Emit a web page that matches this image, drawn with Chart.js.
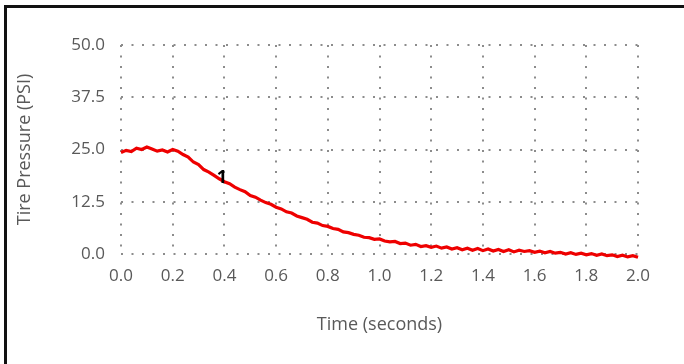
<!DOCTYPE html>
<html>
<head>
<meta charset="utf-8">
<script src="https://cdn.jsdelivr.net/npm/chart.js@4/dist/chart.umd.min.js"></script>
<style>
    html, body { margin: 0; padding: 0; background: #fff; overflow: hidden; }
    #wrap { position: relative; width: 684px; height: 364px; }
    #frame { position: absolute; left: 4px; top: 5px; width: 700px; height: 400px; border: 3px solid #111; box-sizing: border-box; }
    canvas { position: absolute; left: 0; top: 0; }
</style>
</head>
<body>
<div id="wrap">
    <div id="frame"></div>
    <canvas id="chart" width="684" height="364"></canvas>
</div>
<script>
// time in seconds, step 0.02
const timeValues = [
    0.00, 0.02, 0.04, 0.06, 0.08, 0.10, 0.12, 0.14, 0.16, 0.18,
    0.20, 0.22, 0.24, 0.26, 0.28, 0.30, 0.32, 0.34, 0.36, 0.38,
    0.40, 0.42, 0.44, 0.46, 0.48, 0.50, 0.52, 0.54, 0.56, 0.58,
    0.60, 0.62, 0.64, 0.66, 0.68, 0.70, 0.72, 0.74, 0.76, 0.78,
    0.80, 0.82, 0.84, 0.86, 0.88, 0.90, 0.92, 0.94, 0.96, 0.98,
    1.00, 1.02, 1.04, 1.06, 1.08, 1.10, 1.12, 1.14, 1.16, 1.18,
    1.20, 1.22, 1.24, 1.26, 1.28, 1.30, 1.32, 1.34, 1.36, 1.38,
    1.40, 1.42, 1.44, 1.46, 1.48, 1.50, 1.52, 1.54, 1.56, 1.58,
    1.60, 1.62, 1.64, 1.66, 1.68, 1.70, 1.72, 1.74, 1.76, 1.78,
    1.80, 1.82, 1.84, 1.86, 1.88, 1.90, 1.92, 1.94, 1.96, 1.98,
    2.00
];
// tire pressure (PSI)
const pressureValues = [
    24.3, 24.8, 24.5, 25.3, 25.0, 25.6, 25.1, 24.6, 24.9, 24.4,
    25.0, 24.6, 23.8, 23.2, 22.0, 21.4, 20.2, 19.6, 18.8, 18.0,
    17.3, 16.8, 16.0, 15.4, 14.9, 14.0, 13.6, 12.9, 12.3, 11.9,
    11.2, 10.8, 10.1, 9.8, 9.1, 8.7, 8.3, 7.6, 7.4, 6.8,
    6.6, 6.1, 5.9, 5.3, 5.1, 4.7, 4.5, 4.0, 3.9, 3.5,
    3.6, 3.1, 2.9, 3.0, 2.5, 2.6, 2.1, 2.3, 1.8, 2.0,
    1.6, 1.9, 1.4, 1.7, 1.2, 1.5, 1.0, 1.4, 0.9, 1.3,
    0.8, 1.2, 0.7, 1.1, 0.6, 1.0, 0.5, 0.9, 0.6, 0.8,
    0.4, 0.7, 0.3, 0.6, 0.2, 0.4, 0.0, 0.3, -0.1, 0.2,
    -0.2, 0.1, -0.3, 0.0, -0.4, -0.2, -0.6, -0.3, -0.7, -0.4,
    -0.8
];
const xTickValues = [0.0, 0.2, 0.4, 0.6, 0.8, 1.0, 1.2, 1.4, 1.6, 1.8, 2.0];
const yTickValues = [0.0, 12.5, 25.0, 37.5, 50.0];
const markerLabel = "1";
const markerPoint = { x: 0.39, y: 18.2 };

const points = timeValues.map((t, i) => ({ x: t, y: pressureValues[i] }));
const textColor = "#595959";
const gridColor = "#8c8c8c";

const markerPlugin = {
    id: "marker",
    afterDatasetsDraw(chart) {
        const { ctx, scales } = chart;
        const px = scales.x.getPixelForValue(markerPoint.x);
        const py = scales.y.getPixelForValue(markerPoint.y);
        ctx.save();
        ctx.fillStyle = "#000";
        ctx.font = "bold 18px 'Open Sans'";
        ctx.textAlign = "center";
        ctx.textBaseline = "middle";
        ctx.fillText(markerLabel, px, py);
        ctx.restore();
    }
};

const gridOpts = {
    color: gridColor,
    lineWidth: 2,
    drawTicks: false
};

new Chart(document.getElementById("chart"), {
    type: "line",
    data: {
        datasets: [
            {
                data: points,
                borderColor: "#ee0000",
                borderWidth: 3.2,
                pointRadius: 0,
                tension: 0,
                clip: false
            },
            {
                data: points,
                borderColor: "rgba(20, 0, 0, 0.45)",
                borderWidth: 1,
                pointRadius: 0,
                tension: 0,
                clip: false
            }
        ]
    },
    options: {
        responsive: false,
        animation: false,
        layout: { padding: { left: 14, right: 46, top: 45, bottom: 28 } },
        plugins: {
            legend: { display: false },
            tooltip: { enabled: false }
        },
        scales: {
            x: {
                type: "linear",
                min: 0,
                max: 2,
                afterBuildTicks: (scale) => { scale.ticks = xTickValues.map((v) => ({ value: v })); },
                afterFit: (scale) => { scale.height = 364 - 254 - 28; },
                grid: gridOpts,
                border: { display: false, dash: [2, 8.5] },
                ticks: {
                    color: textColor,
                    font: { family: "'Open Sans'", size: 17 },
                    padding: 12,
                    maxRotation: 0,
                    callback: (v) => v.toFixed(1)
                },
                title: {
                    display: true,
                    text: "Time (seconds)",
                    color: textColor,
                    font: { family: "'Open Sans'", size: 18 },
                    padding: { top: 0, bottom: 0 }
                }
            },
            y: {
                min: 0,
                max: 50,
                afterBuildTicks: (scale) => { scale.ticks = yTickValues.map((v) => ({ value: v })); },
                afterFit: (scale) => { scale.width = 121 - 14; },
                grid: gridOpts,
                border: { display: false, dash: [2, 8.5] },
                ticks: {
                    color: textColor,
                    font: { family: "'Open Sans'", size: 17 },
                    padding: 16,
                    callback: (v) => v.toFixed(1)
                },
                title: {
                    display: true,
                    text: "Tire Pressure (PSI)",
                    color: textColor,
                    font: { family: "'Open Sans'", size: 18 },
                    padding: { top: 0, bottom: 0 }
                }
            }
        }
    },
    plugins: [markerPlugin]
});
</script>
</body>
</html>
